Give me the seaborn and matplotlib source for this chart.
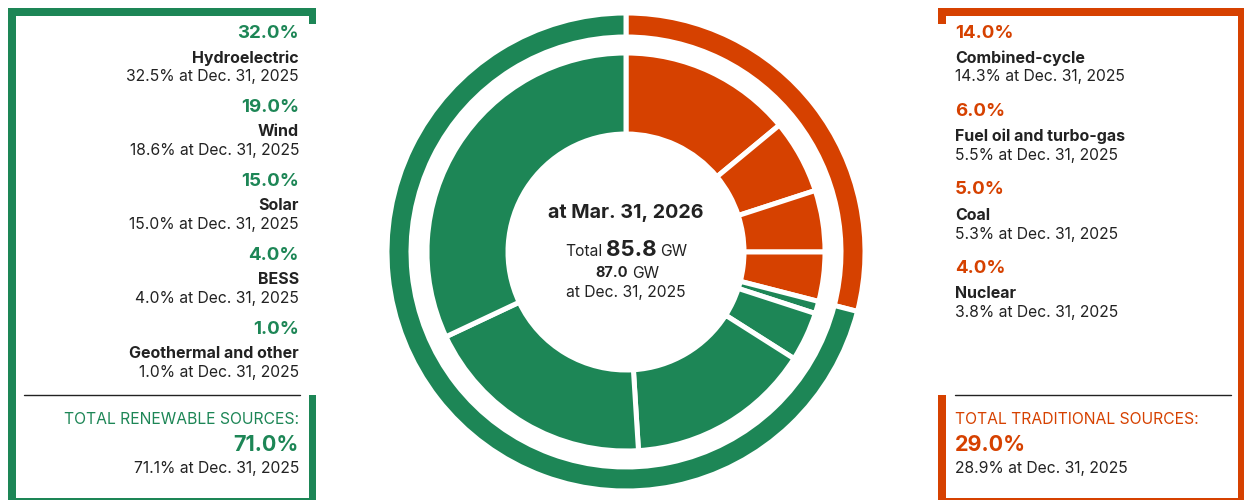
import matplotlib
matplotlib.use("Agg")
import matplotlib.pyplot as plt
import seaborn as sns
from matplotlib.patches import Rectangle

# data
sources = ["Combined-cycle", "Fuel oil and turbo-gas", "Coal", "Nuclear",
           "Geothermal and other", "BESS", "Solar", "Wind", "Hydroelectric"]
share_mar26 = [14.0, 6.0, 5.0, 4.0, 1.0, 4.0, 15.0, 19.0, 32.0]
share_dec25 = [14.3, 5.5, 5.3, 3.8, 1.0, 4.0, 15.0, 18.6, 32.5]
source_group = ["trad", "trad", "trad", "trad", "ren", "ren", "ren", "ren", "ren"]
groups = ["trad", "ren"]
group_titles = ["TOTAL TRADITIONAL SOURCES:", "TOTAL RENEWABLE SOURCES:"]
group_mar26 = [29.0, 71.0]
group_dec25 = [28.9, 71.1]
total_mar26 = 85.8
total_dec25 = 87.0

GREEN = "#1d8656"
ORANGE = "#d64100"
DARK = "#222222"
colors = {"trad": ORANGE, "ren": GREEN}

sns.set_theme(style="white")
plt.rcParams["font.family"] = ["Inter", "DejaVu Sans"]

W, H = 1244, 500
fig = plt.figure(figsize=(W / 100, H / 100), dpi=100)

# donut, axes in pixel units
cx, cy, half = 626, 252, 250
pax = fig.add_axes([(cx - half) / W, (H - cy - half) / H, 2 * half / W, 2 * half / H])

pax.pie(group_mar26, radius=239, startangle=90, counterclock=False,
        colors=[colors[g] for g in groups],
        wedgeprops=dict(width=24, edgecolor="white", linewidth=3.6))
pax.pie(share_mar26, radius=199, startangle=90, counterclock=False,
        colors=[colors[g] for g in source_group],
        wedgeprops=dict(width=81, edgecolor="white", linewidth=3.6))
# pie() resets the limits, so set them afterwards
pax.set_xlim(-half, half)
pax.set_ylim(-half, half)
pax.set_aspect("equal")
pax.axis("off")

# overlay for text and frames
ax = fig.add_axes([0, 0, 1, 1], facecolor="none")
ax.set_xlim(0, W)
ax.set_ylim(H, 0)
ax.axis("off")


def bar(x0, y0, x1, y1, c):
    ax.add_patch(Rectangle((x0, y0), x1 - x0, y1 - y0, color=c, lw=0))


# left frame (renewables)
bar(8, 8, 316, 16, GREEN)
bar(8, 8, 16, 500, GREEN)
bar(309, 8, 316, 24, GREEN)
bar(309, 395, 316, 500, GREEN)
bar(8, 498, 316, 500, GREEN)
ax.plot([24, 300], [395, 395], color=DARK, lw=1)

# right frame (traditional)
bar(938, 8, 1244, 16, ORANGE)
bar(1238, 8, 1244, 500, ORANGE)
bar(938, 8, 946, 24, ORANGE)
bar(938, 395, 946, 500, ORANGE)
bar(938, 498, 1244, 500, ORANGE)
ax.plot([955, 1231], [395, 395], color=DARK, lw=1)

FS = 11.3   # regular text
FB = 11.5   # bold names

# source labels
ren = [i for i, g in enumerate(source_group) if g == "ren"][::-1]
trad = [i for i, g in enumerate(source_group) if g == "trad"]

for k, i in enumerate(ren):
    y = 33 + 74 * k
    ax.text(299, y, f"{share_mar26[i]:.1f}%", ha="right", va="center",
            fontsize=13.5, fontweight="bold", color=GREEN)
    ax.text(299, y + 25, sources[i], ha="right", va="center",
            fontsize=FB, fontweight="bold", color=DARK)
    ax.text(299, y + 44, f"{share_dec25[i]:.1f}% at Dec. 31, 2025", ha="right",
            va="center", fontsize=FS, color=DARK)

for k, i in enumerate(trad):
    y = 33 + 78.5 * k
    ax.text(955, y, f"{share_mar26[i]:.1f}%", ha="left", va="center",
            fontsize=13.5, fontweight="bold", color=ORANGE)
    ax.text(955, y + 25, sources[i], ha="left", va="center",
            fontsize=FB, fontweight="bold", color=DARK)
    ax.text(955, y + 44, f"{share_dec25[i]:.1f}% at Dec. 31, 2025", ha="left",
            va="center", fontsize=FS, color=DARK)

# group totals
for g, x, ha in [(1, 299, "right"), (0, 955, "left")]:
    c = colors[groups[g]]
    ax.text(x, 419, group_titles[g], ha=ha, va="center", fontsize=FS, color=c)
    ax.text(x, 445, f"{group_mar26[g]:.1f}%", ha=ha, va="center",
            fontsize=15.5, fontweight="bold", color=c)
    ax.text(x, 469, f"{group_dec25[g]:.1f}% at Dec. 31, 2025", ha=ha,
            va="center", fontsize=FS, color=DARK)

# centre
ax.text(626, 213, "at Mar. 31, 2026", ha="center", va="center",
        fontsize=14.2, fontweight="bold", color=DARK)
ax.text(603, 251, "Total", ha="right", va="center", fontsize=FS, color=DARK)
ax.text(631, 250, f"{total_mar26:.1f}", ha="center", va="center",
        fontsize=16, fontweight="bold", color=DARK)
ax.text(660, 251, "GW", ha="left", va="center", fontsize=FS, color=DARK)
ax.text(628, 273, f"{total_dec25:.1f}", ha="right", va="center",
        fontsize=10.5, fontweight="bold", color=DARK)
ax.text(632, 273, "GW", ha="left", va="center", fontsize=FS, color=DARK)
ax.text(626, 292, "at Dec. 31, 2025", ha="center", va="center",
        fontsize=FS, color=DARK)

fig.savefig("out.png", dpi=100)
